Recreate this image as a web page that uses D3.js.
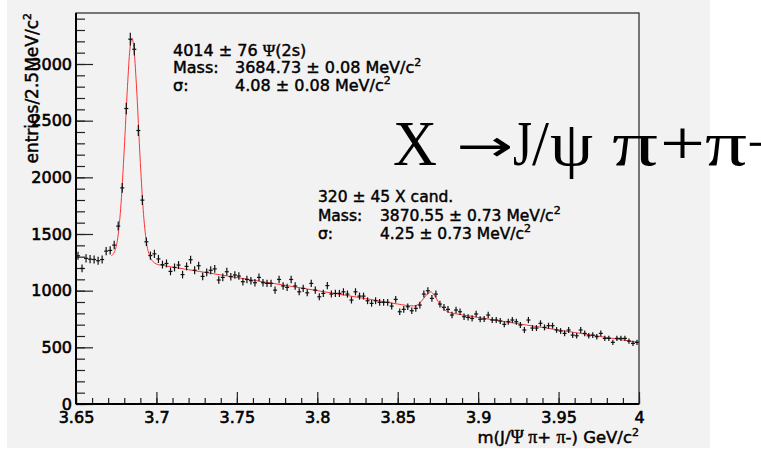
<!DOCTYPE html>
<html>
<head>
<meta charset="utf-8">
<script src="https://cdn.jsdelivr.net/npm/d3@7"></script>
<style>
body { margin: 0; background: #fff; }
</style>
</head>
<body>
<div class="chart"></div>
<script>
// m(J/psi pi+ pi-) histogram, 2.5 MeV bins from 3.65 to 4.0 GeV
const massRange = [3.65, 4.0];
const nBins = 140;
const entries = [
  1308, 1196, 1285, 1278, 1275, 1264, 1275, 1349, 1355, 1402,
  1570, 1907, 2607, 3219, 3130, 2413, 1799, 1431, 1310, 1325,
  1280, 1230, 1240, 1170, 1205, 1226, 1142, 1214, 1273, 1180,
  1220, 1126, 1162, 1180, 1192, 1094, 1117, 1167, 1123, 1138,
  1129, 1079, 1099, 1088, 1070, 1117, 1070, 1064, 1064, 1005,
  1099, 1041, 1029, 1099, 1041,  990, 1020,  981, 1064, 1005,
   946,  976, 1045,  970,  976,  976,  990,  970,  917,  990,
   952,  952,  911,  888,  911,  897,  897,  897,  864,  923,
   814,  835,  858,  823,  844,  873,  970,  999,  932,  970,
   882,  853,  835,  785,  829,  814,  770,  764,  755,  794,
   748,  750,  785,  741,  741,  732,  703,  726,  741,  726,
   697,  653,  741,  670,  670,  712,  676,  691,  691,  653,
   644,  623,  653,  608,  602,  653,  623,  602,  608,  594,
   623,  579,  579,  544,  579,  579,  579,  555,  535,  544
];

// red fit curve
const fitMass = [
  3.672, 3.674, 3.676, 3.678, 3.680, 3.682, 3.6835, 3.6848, 3.686, 3.6875,
  3.690, 3.692, 3.694, 3.696, 3.698, 3.700, 3.705, 3.71, 3.72, 3.73,
  3.74, 3.75, 3.76, 3.77, 3.78, 3.79, 3.80, 3.81, 3.82, 3.83,
  3.84, 3.85, 3.86, 3.863, 3.866, 3.8685, 3.8705, 3.8725, 3.875, 3.878,
  3.881, 3.885, 3.89, 3.90, 3.91, 3.92, 3.93, 3.94, 3.95, 3.96,
  3.97, 3.98, 3.99, 4.00
];
const fitEntries = [
  1310, 1345, 1470, 1770, 2250, 2800, 3130, 3225, 3140, 2830,
  2130, 1670, 1410, 1300, 1255, 1235, 1220, 1208, 1185, 1162,
  1139, 1116, 1093, 1070, 1047, 1024, 1000, 977, 954, 930,
  906, 882, 865, 882, 929, 972, 990, 963, 908, 846,
  815, 799, 787, 764, 741, 719, 697, 675, 653, 631,
  609, 587, 565, 543
];

const xTicks = [3.65, 3.7, 3.75, 3.8, 3.85, 3.9, 3.95, 4.0];
const xTickLabels = ["3.65", "3.7", "3.75", "3.8", "3.85", "3.9", "3.95", "4"];
const yTicks = [0, 500, 1000, 1500, 2000, 2500, 3000];
const yTickLabels = ["0", "500", "1000", "1500", "2000", "2500", "3000"];
const yMax = 3450;

const psiLabel = "4014 \u00b1 76 ";
const psiMass = ["Mass:", "3684.73 \u00b1 0.08 MeV/c"];
const psiSigma = ["\u03c3:", "4.08 \u00b1 0.08 MeV/c"];
const xLabel = "320 \u00b1 45 X cand.";
const xMass = ["Mass:", "3870.55 \u00b1 0.73 MeV/c"];
const xSigma = ["\u03c3:", "4.25 \u00b1 0.73 MeV/c"];
const bigTitle = ["X", "\u2192", "J", "/", "\u03c8", "\u03c0", "+", "\u03c0", "\u2212"];

const SANS = "DejaVu Sans", SERIF = "Liberation Serif";

const margin = {top: 13, right: 122, bottom: 45, left: 76};
const W = 761, H = 449;
const width = W - margin.left - margin.right,
    height = H - margin.top - margin.bottom;

var root = d3.select(".chart").append("svg")
    .attr("width", W)
    .attr("height", H)
    .attr("font-family", SANS)
    .style("display", "block");

// grey pad behind the plot
root.append("rect")
    .attr("x", 7).attr("y", 0)
    .attr("width", 703).attr("height", 448)
    .attr("fill", "#f2f2f2");

var svg = root.append("g")
    .attr("transform", "translate(" + margin.left + "," + margin.top + ")");

const xScale = d3.scaleLinear()
    .domain(massRange)
    .range([0, width]);

const yScale = d3.scaleLinear()
    .domain([0, yMax])
    .range([height, 0]);

const binW = (massRange[1] - massRange[0]) / nBins;
const data = entries.map((v, i) => ({m: massRange[0] + (i + 0.5) * binW, v: v}));

// frame
svg.append("rect")
    .attr("width", width).attr("height", height)
    .attr("fill", "none")
    .attr("stroke", "#333")
    .attr("stroke-width", 1.3);

// minor ticks
svg.append("g")
    .call(d3.axisLeft(yScale).tickValues(yScale.ticks(35)).tickSizeInner(-9).tickSizeOuter(0).tickFormat(""))
    .call(g => g.select(".domain").remove());
svg.append("g")
    .attr("transform", "translate(0," + height + ")")
    .call(d3.axisBottom(xScale).tickValues(xScale.ticks(35)).tickSizeInner(-6).tickSizeOuter(0).tickFormat(""))
    .call(g => g.select(".domain").remove());

// major ticks + labels
svg.append("g")
    .attr("class", "yAxis")
    .call(d3.axisLeft(yScale).tickValues(yTicks).tickSizeInner(-17).tickSizeOuter(0).tickPadding(4)
        .tickFormat((d, i) => yTickLabels[i]))
    .call(g => g.select(".domain").remove());

svg.append("g")
    .attr("class", "xAxis")
    .attr("transform", "translate(0," + height + ")")
    .call(d3.axisBottom(xScale).tickValues(xTicks).tickSizeInner(-12).tickSizeOuter(0).tickPadding(8)
        .tickFormat((d, i) => xTickLabels[i]))
    .call(g => g.select(".domain").remove());

svg.selectAll(".tick line").attr("stroke", "#222").attr("stroke-width", 1.2);
svg.selectAll(".yAxis, .xAxis")
    .attr("font-family", SANS)
    .attr("font-size", 16);
svg.selectAll(".yAxis text, .xAxis text")
    .attr("fill", "#000")
    .attr("stroke", "#000")
    .attr("stroke-width", 0.6);

// axis lines
svg.append("line")
    .attr("x1", 0).attr("x2", 0).attr("y1", 0).attr("y2", height)
    .attr("stroke", "#000").attr("stroke-width", 2);
svg.append("line")
    .attr("x1", 0).attr("x2", width).attr("y1", height).attr("y2", height)
    .attr("stroke", "#000").attr("stroke-width", 2);

// fit
const fit = fitMass.map((m, i) => [m, fitEntries[i]]);
svg.append("path")
    .datum(fit)
    .attr("fill", "none")
    .attr("stroke", "#f33")
    .attr("stroke-width", 1)
    .attr("d", d3.line().x(d => xScale(d[0])).y(d => yScale(d[1])).curve(d3.curveMonotoneX));

// data points with errors
const pts = svg.selectAll(".pt")
    .data(data)
    .enter().append("g")
    .attr("class", "pt");

pts.append("line")
    .attr("x1", d => xScale(d.m)).attr("x2", d => xScale(d.m))
    .attr("y1", d => yScale(d.v - Math.sqrt(d.v)))
    .attr("y2", d => yScale(d.v + Math.sqrt(d.v)))
    .attr("stroke", "#111").attr("stroke-width", 1.2);
pts.append("line")
    .attr("x1", d => xScale(d.m - binW / 2)).attr("x2", d => xScale(d.m + binW / 2))
    .attr("y1", d => yScale(d.v)).attr("y2", d => yScale(d.v))
    .attr("stroke", "#111").attr("stroke-width", 1.2);

// all small labels get a thin stroke, the reference text is heavy
var labels = root.append("g")
    .attr("fill", "#000")
    .attr("stroke", "#000")
    .attr("stroke-width", 0.45);

// axis titles
var yTitle = labels.append("text")
    .attr("transform", "translate(38," + margin.top + ") rotate(-90)")
    .attr("text-anchor", "end")
    .attr("font-size", 17);
yTitle.append("tspan").text("entries/2.5MeV/c");
yTitle.append("tspan").attr("dy", -7).attr("font-size", 11).text("2");

var xTitle = labels.append("text")
    .attr("x", margin.left + width)
    .attr("y", 443)
    .attr("text-anchor", "end")
    .attr("font-size", 16.5);
xTitle.append("tspan").text("m(J/");
xTitle.append("tspan").attr("font-family", SERIF).attr("font-size", 18).text("\u03a8 \u03c0");
xTitle.append("tspan").text("+ ");
xTitle.append("tspan").attr("font-family", SERIF).attr("font-size", 18).text("\u03c0");
xTitle.append("tspan").text("-) GeV/c");
xTitle.append("tspan").attr("dy", -7).attr("font-size", 11).text("2");

// fit results
function addLine(x0, y0, parts, size) {
    var t = labels.append("text").attr("x", x0).attr("y", y0).attr("font-size", size);
    t.append("tspan").text(parts[0]);
    t.append("tspan").attr("x", x0 + 62).text(parts[1]);
    t.append("tspan").attr("dy", -7).attr("font-size", 11).text("2");
}

var p1 = labels.append("text").attr("x", 173).attr("y", 56).attr("font-size", 16);
p1.append("tspan").text(psiLabel);
p1.append("tspan").attr("font-family", SERIF).attr("font-size", 17).text("\u03a8");
p1.append("tspan").text("(2s)");
addLine(173, 73, psiMass, 16);
addLine(173, 91, psiSigma, 16);

labels.append("text").attr("x", 318).attr("y", 202).attr("font-size", 15.5).text(xLabel);
addLine(318, 220.5, xMass, 15.5);
addLine(318, 239, xSigma, 15.5);

// big decay title, each glyph placed like the original (symbol font look)
const titleLayout = [
    {x: 393, w: 44},
    {x: 456, w: 57, font: SANS, size: 44, y: 161},
    {x: 513, w: 19},
    {x: 532, w: 17},
    {x: 550, w: 43},
    {x: 612, w: 46},
    {x: 660, w: 45},
    {x: 705, w: 42},
    {x: 747, w: 32}
];
var title = root.append("g").attr("fill", "#000");
bigTitle.forEach((ch, i) => {
    const L = titleLayout[i];
    title.append("text")
        .attr("x", L.x)
        .attr("y", L.y || 165)
        .attr("font-family", L.font || SERIF)
        .attr("font-size", L.size || 63)
        .attr("textLength", L.w)
        .attr("lengthAdjust", "spacingAndGlyphs")
        .text(ch);
});
</script>
</body>
</html>
